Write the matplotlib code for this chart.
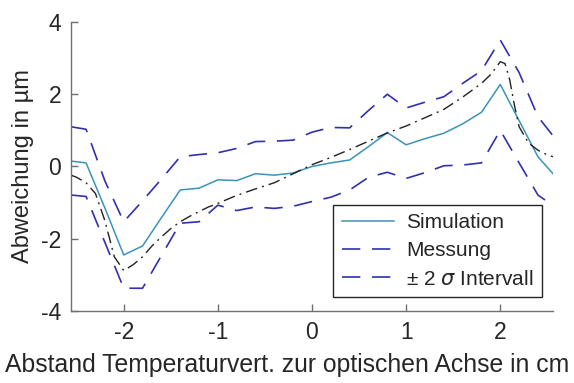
import matplotlib
matplotlib.use("Agg")
import matplotlib.pyplot as plt

plt.rcParams["font.family"] = ["Liberation Sans", "DejaVu Sans"]

# grid of the simulation / interval curves (cm)
x = [-2.56, -2.4, -2.2, -2.0, -1.8, -1.6, -1.4, -1.2, -1.0, -0.8, -0.6, -0.4, -0.2,
     0.0, 0.2, 0.4, 0.6, 0.8, 1.0, 1.2, 1.4, 1.6, 1.8, 2.0, 2.2, 2.4, 2.56]
simulation = [0.15, 0.1, -1.15, -2.45, -2.2, -1.42, -0.65, -0.6, -0.37, -0.39, -0.2, -0.24, -0.18,
              0.0, 0.1, 0.18, 0.55, 0.94, 0.6, 0.77, 0.92, 1.18, 1.5, 2.27, 1.27, 0.27, -0.2]
upper = [1.1, 1.03, -0.4, -1.53, -0.95, -0.35, 0.27, 0.33, 0.38, 0.5, 0.69, 0.7, 0.73,
         0.95, 1.08, 1.07, 1.55, 2.0, 1.62, 1.78, 1.93, 2.3, 2.65, 3.5, 2.6, 1.38, 0.85]
lower = [-0.79, -0.83, -2.1, -3.37, -3.37, -2.47, -1.57, -1.53, -1.07, -1.22, -1.12, -1.16, -1.1,
         -0.97, -0.85, -0.65, -0.3, -0.16, -0.33, -0.17, 0.02, 0.04, 0.1, 1.0, 0.1, -0.79, -1.08]

# measured curve (finer sampling)
x_mess = [-2.56, -2.5, -2.4, -2.3, -2.2, -2.1, -2.0, -1.9, -1.8, -1.7, -1.6, -1.5, -1.4, -1.3,
          -1.2, -1.1, -1.0, -0.8, -0.6, -0.4, -0.2, 0.0, 0.2, 0.4, 0.6, 0.8, 1.0, 1.2, 1.4,
          1.6, 1.8, 1.9, 2.0, 2.05, 2.1, 2.15, 2.2, 2.3, 2.4, 2.5, 2.56]
messung = [-0.24, -0.3, -0.45, -0.75, -1.5, -2.5, -2.88, -2.72, -2.5, -2.2, -1.95, -1.72, -1.53,
           -1.38, -1.25, -1.12, -1.02, -0.8, -0.62, -0.45, -0.2, 0.05, 0.25, 0.47, 0.7, 0.93,
           1.12, 1.35, 1.58, 1.92, 2.3, 2.55, 2.9, 2.85, 2.4, 1.7, 1.1, 0.65, 0.45, 0.32, 0.27]

TEAL = "#3a93b8"
BLUE = "#3030b0"
TXT = "#262626"

fig = plt.figure(figsize=(5.74, 3.83), dpi=100)
ax = fig.add_axes([0.1237, 0.188, 0.8397, 0.7546])

l_sim, = ax.plot(x, simulation, color=TEAL, lw=1.1, label="Simulation")
l_up, = ax.plot(x, upper, color=BLUE, lw=1.2, ls=(0, (11, 7)), label="Messung")
l_lo, = ax.plot(x, lower, color=BLUE, lw=1.2, ls=(0, (11, 7)),
                label=r"± 2 $\sigma$ Intervall")
ax.plot(x_mess, messung, color="#222222", lw=1.0, ls=(0, (8.5, 3.6, 1.4, 3.6)))

ax.set_xlim(-2.56, 2.56)
ax.set_ylim(-4, 4)
ax.set_xticks([-2, -1, 0, 1, 2])
ax.set_yticks([-4, -2, 0, 2, 4])
ax.set_xticklabels(["-2", "-1", "0", "1", "2"])
ax.set_yticklabels(["-4", "-2", "0", "2", "4"])

for side in ("top", "right"):
    ax.spines[side].set_visible(False)
for side in ("left", "bottom"):
    ax.spines[side].set_color("#707070")
    ax.spines[side].set_linewidth(1.0)
ax.tick_params(direction="in", length=5, width=1.0, color="#707070",
               labelsize=16.5, labelcolor=TXT, pad=7)

ax.set_xlabel("Abstand Temperaturvert. zur optischen Achse in cm", fontsize=17.8,
              color=TXT)
# label is centred on the figure, not on the axes
ax.xaxis.set_label_coords(0.448, -0.145)
ax.set_ylabel("Abweichung in µm", fontsize=17, color=TXT, labelpad=5)

leg = ax.legend(handles=[l_sim, l_up, l_lo], loc="lower right",
                bbox_to_anchor=(0.977, 0.048), borderaxespad=0, fontsize=15,
                fancybox=False, framealpha=1, edgecolor=TXT,
                handlelength=2.5, handletextpad=0.6, labelspacing=0.45,
                borderpad=0.4)
leg.get_frame().set_linewidth(1.0)
for t in leg.get_texts():
    t.set_color(TXT)

fig.savefig("out.png", dpi=100)
